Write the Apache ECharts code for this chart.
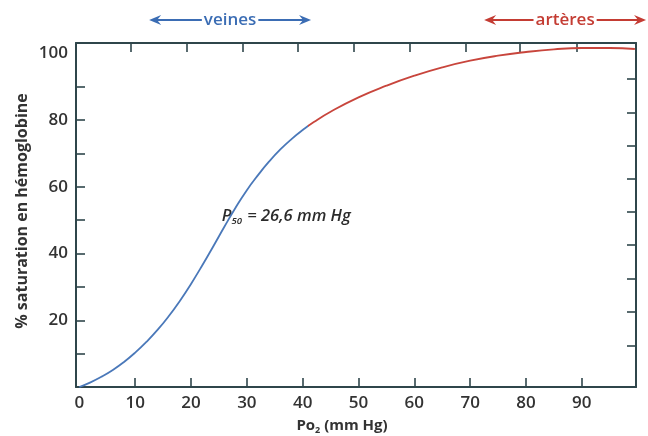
<!DOCTYPE html>
<html>
<head>
<meta charset="utf-8">
<script src="https://cdn.jsdelivr.net/npm/echarts@6/dist/echarts.min.js"></script>
<style>
html,body{margin:0;padding:0;background:#fff;}
#c{width:648px;height:436px;}
</style>
</head>
<body>
<div id="c"></div>
<script>
// ---- data ----
var po2 = [0, 2, 4, 6, 8, 10, 12, 14, 16, 18, 20, 22, 24, 26, 28, 30, 32, 34, 36, 38, 40, 42, 45, 50, 55, 60, 65, 70, 75, 80, 85, 90, 95, 99.5];
var saturation = [0, 1.4, 3.1, 5.1, 7.5, 10.3, 13.5, 17.1, 21.2, 25.8, 30.9, 36.4, 42.2, 48.1, 53.8, 59.0, 63.5, 67.6, 71.2, 74.3, 77.0, 79.4, 82.5, 86.8, 90.3, 93.3, 95.8, 97.8, 99.3, 100.4, 101.2, 101.6, 101.6, 101.3];
var xLabelValues = [0, 10, 20, 30, 40, 50, 60, 70, 80, 90];
var xTickValues = [10, 20, 30, 40, 50, 60, 70, 80, 90];
var topTickValues = [9.2, 19.2, 29.2, 39.2, 49.2, 59.2, 69.2, 78.9, 89.1];
var yLabelValues = [20, 40, 60, 80, 100];
var yTickValues = [10, 20, 30, 40, 50, 60, 70, 80, 90];
var rightTickValues = [12.5, 22.5, 32.5, 42.5, 52.5, 62.3, 72.3, 82.3, 92.3];
var veinesRange = [12.5, 41.5];
var arteresRange = [72.5, 101.5];
var splitPo2 = 41;
var p50 = [26.6, 50];

var AXIS = '#2f464b';
var BLUE = '#4a78b9';
var RED = '#c8453c';
var FONT = '"Open Sans", "Liberation Sans", sans-serif';

var pts = po2.map(function (x, i) { return [x, saturation[i]]; });

var chart = echarts.init(document.getElementById('c'), null, {renderer: 'canvas'});

function axisCommon(pos) {
  return {
    type: 'value',
    position: pos,
    axisLine: {show: true, onZero: false, lineStyle: {color: AXIS, width: 2}},
    splitLine: {show: false},
    axisTick: {show: true, inside: true, length: 9, lineStyle: {color: AXIS, width: 1.6}},
    axisLabel: {show: false}
  };
}

var xb = axisCommon('bottom');
xb.min = -0.6; xb.max = 99.7;
xb.axisTick.customValues = xTickValues;
xb.axisLabel = {show: true, customValues: xLabelValues, margin: 8, color: '#333', fontFamily: FONT, fontWeight: 600, fontSize: 17};
var xt = axisCommon('top');
xt.min = -0.6; xt.max = 99.7;
xt.axisTick.customValues = topTickValues;

var yl = axisCommon('left');
yl.min = 0; yl.max = 103.1;
yl.axisTick.customValues = yTickValues;
yl.axisLabel = {show: true, customValues: yLabelValues, margin: 8, color: '#333', fontFamily: FONT, fontWeight: 600, fontSize: 17};
var yr = axisCommon('right');
yr.min = 0; yr.max = 103.1;
yr.axisTick.customValues = rightTickValues;

chart.setOption({
  animation: false,
  backgroundColor: '#fff',
  grid: {left: 76, right: 12, top: 43, bottom: 49, containLabel: false, outerBoundsMode: 'none'},
  xAxis: [xb, xt],
  yAxis: [yl, yr],
  series: [{
    type: 'line',
    data: pts,
    smooth: 0.5,
    showSymbol: false,
    lineStyle: {width: 1.8, color: BLUE},
    xAxisIndex: 0,
    yAxisIndex: 0,
    z: 1
  }]
});

function px(v) { return chart.convertToPixel({xAxisIndex: 0, yAxisIndex: 0}, v); }

// two-colour stroke split at splitPo2 through the axis scale
var gx0 = px([xb.min, 0])[0];
var gx1 = px([xb.max, 0])[0];
var gs = px([splitPo2, 0])[0];
var f = (gs - gx0) / (gx1 - gx0);
chart.setOption({
  series: [{
    lineStyle: {
      color: new echarts.graphic.LinearGradient(gx0, 0, gx1, 0, [
        {offset: 0, color: BLUE}, {offset: f, color: BLUE},
        {offset: f, color: RED}, {offset: 1, color: RED}
      ], true)
    }
  }]
});

function arrowHead(x, y, dir, color) {
  var L = 12, W = 5, N = 8;
  return {
    type: 'polygon',
    shape: {points: [[x, y], [x - dir * L, y - W], [x - dir * N, y], [x - dir * L, y + W]]},
    style: {fill: color}
  };
}

function rangeArrow(range, label, color, y) {
  var a = px([range[0], 0])[0];
  var b = px([range[1], 0])[0];
  var cx = (a + b) / 2;
  return [
    {type: 'line', shape: {x1: a + 6, y1: y, x2: b - 6, y2: y}, style: {stroke: color, lineWidth: 2}},
    arrowHead(a, y, -1, color),
    arrowHead(b, y, 1, color),
    {type: 'text', x: cx, y: y, z: 10, style: {text: label, fill: color, font: '600 17px ' + FONT, align: 'center', verticalAlign: 'middle', backgroundColor: '#fff', padding: [0, 2]}}
  ];
}

var pp = px(p50);
var graphics = []
  .concat(rangeArrow(veinesRange, 'veines', '#3b6db4', 20))
  .concat(rangeArrow(arteresRange, 'artères', '#c43c33', 20));

graphics.push({
  type: 'text', x: pp[0] - 6, y: pp[1] - 4,
  style: {
    text: '{p|P}{s|50}{p| = 26,6 mm Hg}',
    align: 'left', verticalAlign: 'middle',
    rich: {
      p: {font: 'italic 600 16.5px ' + FONT, fill: '#2b2b2b'},
      s: {font: 'italic 600 9.5px ' + FONT, fill: '#2b2b2b', padding: [10, 1, 0, 0]}
    }
  }
});
graphics.push({
  type: 'text', x: 342, y: 426,
  style: {
    text: '{p|Po}{s|2}{p| (mm Hg)}',
    align: 'center', verticalAlign: 'middle',
    rich: {
      p: {font: '700 15px ' + FONT, fill: '#333'},
      s: {font: '700 9px ' + FONT, fill: '#333', padding: [9, 0, 0, 0]}
    }
  }
});
graphics.push({
  type: 'text', x: 22, y: 211, rotation: Math.PI / 2,
  style: {text: '% saturation en hémoglobine', font: '700 16px ' + FONT, fill: '#333', align: 'center', verticalAlign: 'middle'}
});

chart.setOption({graphic: graphics});
</script>
</body>
</html>
